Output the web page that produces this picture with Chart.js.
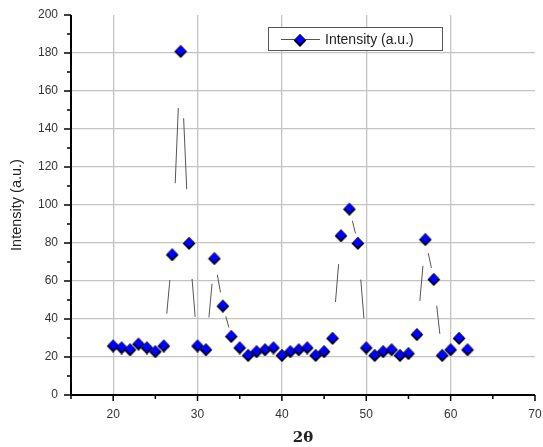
<!DOCTYPE html>
<html>
<head>
<meta charset="utf-8">
<script src="https://cdn.jsdelivr.net/npm/chart.js@4"></script>
<style>
  html, body { margin: 0; padding: 0; background: #fff; }
  #box { width: 543px; height: 447px; }
</style>
</head>
<body>
<div id="box"><canvas id="grafico"></canvas></div>
<script>
// dados
const angulos = [20, 21, 22, 23, 24, 25, 26, 27, 28, 29, 30, 31, 32, 33, 34, 35, 36, 37, 38, 39, 40,
                 41, 42, 43, 44, 45, 46, 47, 48, 49, 50, 51, 52, 53, 54, 55, 56, 57, 58, 59, 60, 61, 62];
const intensidade = [26, 25, 24, 27, 25, 23, 26, 74, 181, 80, 26, 24, 72, 47, 31, 25, 21, 23, 24, 25, 21,
                     23, 24, 25, 21, 23, 30, 84, 98, 80, 25, 21, 23, 24, 21, 22, 32, 82, 61, 21, 24, 30, 24];
const ticksX = [20, 30, 40, 50, 60, 70];
const ticksY = [0, 20, 40, 60, 80, 100, 120, 140, 160, 180, 200];
const nomeSerie = 'Intensity (a.u.)';

const fonte = '"Liberation Sans", Arial, sans-serif';

// marcador losango azul com sombra preta
function criarMarcador() {
    const c = document.createElement('canvas');
    c.width = 14; c.height = 14;
    const g = c.getContext('2d');
    function losango(cx, cy, r, cor) {
        g.beginPath();
        g.moveTo(cx, cy - r); g.lineTo(cx + r, cy); g.lineTo(cx, cy + r); g.lineTo(cx - r, cy);
        g.closePath(); g.fillStyle = cor; g.fill();
    }
    losango(7, 7.5, 6.4, '#000');
    losango(7, 6.2, 5.1, '#0000ff');
    return c;
}
const marcador = criarMarcador();

// linhas com falhas (só o meio de cada segmento)
const linhasPlugin = {
    id: 'linhas',
    beforeDatasetsDraw(chart) {
        const ctx = chart.ctx;
        const pts = chart.getDatasetMeta(0).data;
        ctx.save();
        ctx.strokeStyle = '#555';
        ctx.lineWidth = 1;
        for (let i = 0; i < pts.length - 1; i++) {
            const a = pts[i], b = pts[i + 1];
            const dx = b.x - a.x, dy = b.y - a.y;
            const len = Math.hypot(dx, dy);
            if (len < 30) continue;
            ctx.beginPath();
            ctx.moveTo(a.x + dx * 0.35, a.y + dy * 0.35);
            ctx.lineTo(a.x + dx * 0.72, a.y + dy * 0.72);
            ctx.stroke();
        }
        ctx.restore();
    }
};

// eixos e marcas
const eixosPlugin = {
    id: 'eixos',
    afterDatasetsDraw(chart) {
        const ctx = chart.ctx;
        const a = chart.chartArea;
        const sx = chart.scales.x, sy = chart.scales.y;
        ctx.save();
        ctx.strokeStyle = '#000';
        ctx.lineWidth = 2;
        ctx.beginPath();
        ctx.moveTo(a.left, a.top); ctx.lineTo(a.left, a.bottom);
        ctx.moveTo(a.left - 1, a.bottom); ctx.lineTo(a.right, a.bottom);
        ctx.stroke();
        ctx.lineWidth = 1.5;
        ctx.beginPath();
        for (let v = 0; v <= 200; v += 10) {
            const y = sy.getPixelForValue(v);
            const l = v % 20 === 0 ? 7 : 4;
            ctx.moveTo(a.left - l, y); ctx.lineTo(a.left, y);
        }
        for (let v = 15; v <= 70; v += 5) {
            const x = sx.getPixelForValue(v);
            const l = v % 10 === 0 ? 6 : 4;
            ctx.moveTo(x, a.bottom); ctx.lineTo(x, a.bottom + l);
        }
        ctx.stroke();
        ctx.restore();
    }
};

// legenda desenhada dentro do gráfico
const legendaPlugin = {
    id: 'legenda',
    afterDraw(chart) {
        const ctx = chart.ctx;
        ctx.save();
        ctx.fillStyle = '#fff';
        ctx.fillRect(268, 27, 174, 23);
        ctx.strokeStyle = '#555';
        ctx.lineWidth = 1;
        ctx.strokeRect(268.5, 27.5, 174, 23);
        ctx.beginPath();
        ctx.moveTo(281, 39.5); ctx.lineTo(320, 39.5);
        ctx.stroke();
        ctx.drawImage(marcador, 293, 33);
        ctx.fillStyle = '#222';
        ctx.font = '14px ' + fonte;
        ctx.textBaseline = 'middle';
        ctx.fillText(nomeSerie, 325, 40);
        ctx.restore();
    }
};

new Chart(document.getElementById('grafico'), {
    type: 'line',
    data: {
        datasets: [{
            label: nomeSerie,
            data: angulos.map((x, i) => ({ x: x, y: intensidade[i] })),
            showLine: false,
            pointStyle: marcador,
            pointRadius: 7,
            pointHoverRadius: 7
        }]
    },
    plugins: [linhasPlugin, eixosPlugin, legendaPlugin],
    options: {
        responsive: true,
        maintainAspectRatio: false,
        animation: false,
        layout: { padding: { left: 0, right: 6, top: 15, bottom: 0 } },
        plugins: { legend: { display: false }, tooltip: { enabled: false } },
        scales: {
            x: {
                type: 'linear',
                min: 15, max: 70,
                afterBuildTicks: s => { s.ticks = ticksX.map(v => ({ value: v })); },
                afterFit: s => { s.height = 52; s.paddingLeft = 0; s.paddingRight = 0; },
                border: { display: false },
                grid: {
                    drawTicks: false,
                    color: c => (c.tick && c.tick.value < 70) ? '#c4c4c4' : 'rgba(0,0,0,0)',
                    lineWidth: 1.3
                },
                ticks: { color: '#333', font: { family: fonte, size: 12 }, padding: 12, maxRotation: 0 },
                title: {
                    display: true, text: '2θ', color: '#222',
                    font: { family: '"DejaVu Serif", "Liberation Serif", serif', size: 15, weight: 'bold' },
                    padding: { top: 0, bottom: 0 }
                }
            },
            y: {
                min: 0, max: 200,
                afterBuildTicks: s => { s.ticks = ticksY.map(v => ({ value: v })); },
                afterFit: s => { s.width = 71; s.paddingTop = 0; s.paddingBottom = 0; },
                border: { display: false },
                grid: {
                    drawTicks: false,
                    color: c => (c.tick && c.tick.value > 0 && c.tick.value < 200) ? '#c4c4c4' : 'rgba(0,0,0,0)',
                    lineWidth: 1.3
                },
                ticks: { color: '#333', font: { family: fonte, size: 12 }, padding: 13 },
                title: {
                    display: true, text: nomeSerie, color: '#222',
                    font: { family: fonte, size: 14.5 },
                    padding: { top: 8, bottom: 0 }
                }
            }
        }
    }
});
</script>
</body>
</html>
